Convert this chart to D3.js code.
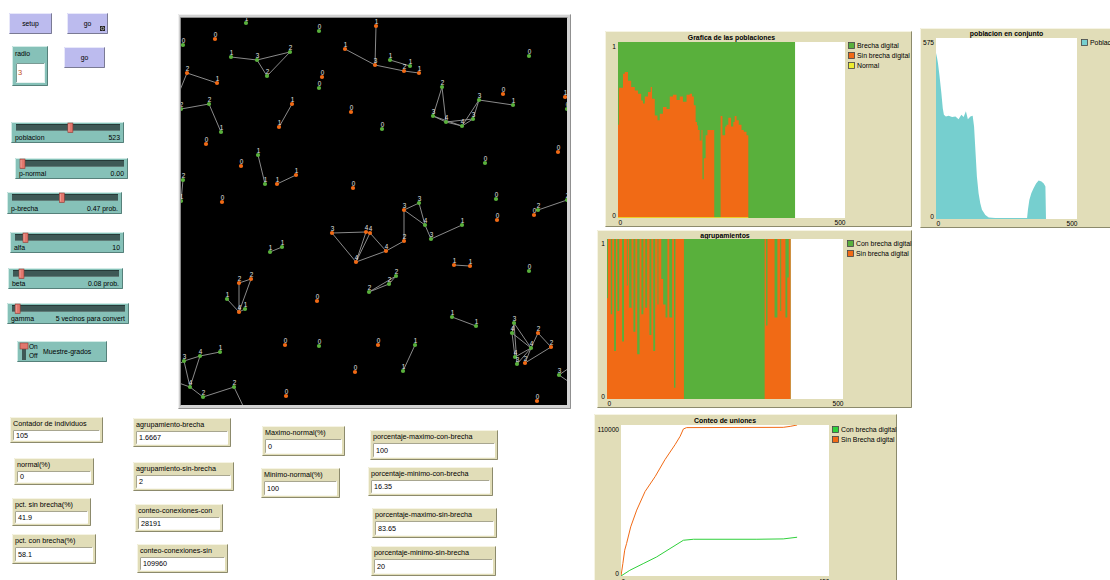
<!DOCTYPE html>
<html><head><meta charset="utf-8">
<script src="https://cdn.jsdelivr.net/npm/d3@7/dist/d3.min.js"></script>
<style>
html,body{margin:0;padding:0;background:#fff;overflow:hidden}
svg{display:block}
text{font-family:"Liberation Sans",Arial,sans-serif}
</style></head><body>
<svg id="c" width="1110" height="580"></svg>
<script>
// ================= DATA =================
const buttonLabels = ['setup', 'go', 'go'];
const buttonForever = [false, true, false];
const inputName = 'radio';
const inputValue = '3';
const sliderNames = ['poblacion', 'p-normal', 'p-brecha', 'alfa', 'beta', 'gamma'];
const sliderValues = [523, 0.00, 0.47, 10, 0.08, 5];
const sliderMax = [1000, 1, 1, 100, 1, 100];
const sliderText = ['523', '0.00', '0.47 prob.', '10', '0.08 prob.', '5 vecinos para convert'];
const switchName = 'Muestre-grados';
const monitorNames = ['Contador de individuos', 'normal(%)', 'pct. sin brecha(%)', 'pct. con brecha(%)',
  'agrupamiento-brecha', 'agrupamiento-sin-brecha', 'conteo-conexiones-con', 'conteo-conexiones-sin',
  'Maximo-normal(%)', 'Minimo-normal(%)', 'porcentaje-maximo-con-brecha', 'porcentaje-minimo-con-brecha',
  'porcentaje-maximo-sin-brecha', 'porcentaje-minimo-sin-brecha'];
const monitorValues = ['105', '0', '41.9', '58.1', '1.6667', '2', '28191', '109960', '0', '100', '100', '16.35', '83.65', '20'];

// Plot 1: "Grafica de las poblaciones"  [tick, fraction]
const popBrecha = [[0, 1], [390, 1]];
const popSinBrecha = [[0,0.53],[2,0.74],[11,0.82],[15,0.83],[22,0.78],[29,0.744],[37,0.725],[44,0.706],[51,0.668],[55,0.65],
  [59,0.69],[66,0.716],[72,0.744],[75,0.678],[81,0.583],[87,0.555],[92,0.593],[99,0.63],[107,0.62],[114,0.69],[121,0.70],
  [129,0.67],[136,0.69],[143,0.66],[151,0.70],[158,0.706],[163,0.69],[167,0.64],[171,0.545],[174,0.527],[176,0.50],[180,0.44],
  [184,0.50],[186,0.22],[189,0.34],[193,0.47],[197,0.50],[212,0],[226,0.58],[230,0.47],[236,0.52],[239,0.53],[243,0.57],
  [249,0.52],[254,0.545],[257,0.58],[261,0.555],[266,0.53],[272,0.50],[277,0.49],[283,0.47],[287,0]];
const popNormal = [[0, 0], [287, 0]];
const popLegend = ['Brecha digital', 'Sin brecha digital', 'Normal'];

// Plot 2: "poblacion en conjunto"
const conjunto = [[0,527],[4,511],[7,495],[12,458],[19,400],[24,352],[28,331],[35,326],[45,328],[57,324],[69,326],[80,317],
  [90,331],[98,324],[106,342],[113,317],[122,326],[130,328],[135,294],[139,230],[145,135],[151,82],[157,50],[163,29],[175,13],
  [187,5],[210,3],[323,3],[326,29],[331,60],[338,82],[346,98],[355,113],[364,122],[374,119],[382,113],[388,103],[390,0]];
const conjuntoLegend = ['Poblacion'];

// Plot 3: "agrupamientos"
const aggCon = [[0, 1], [389, 1]];
const aggSin = [[0,0.63],[2,1],[8,0.53],[11,1],[15,0.30],[19,1],[22,0.55],[26,1],[32,0.36],[36,1],[42,0.71],[44,1],[47,0.57],
  [52,1],[56,0.42],[60,1],[64,0.28],[69,1],[73,0.53],[77,1],[81,0.57],[85,1],[90,0.40],[94,1],[98,0.30],[102,1],[107,0.59],
  [109,1],[115,0.75],[119,0.59],[124,0.51],[128,1],[132,0.51],[138,1],[142,0.07],[145,1],[163,0],[334,1],[337,0.46],[340,1],
  [355,0.51],[361,1],[367,0.55],[369,1],[378,0.51],[382,0.76],[385,1],[389,1]];
const aggLegend = ['Con brecha digital', 'Sin brecha digital'];

// Plot 4: "Conteo de uniones"
const unionesCon = [[0,0],[19,4137],[48,9004],[77,13871],[106,19956],[135,26040],[157,26770],[294,26770],[351,27013],[381,28230]];
const unionesSin = [[0,0],[4,9000],[8,18800],[12,23600],[21,35800],[34,48000],[52,61500],[74,72500],[95,84700],[117,95700],
  [128,101800],[135,107100],[142,108100],[351,108300],[366,109000],[381,110000]];
const unionesLegend = ['Con brecha digital', 'Sin Brecha digital'];

// Network (world coords), [x, y, colour, label]
const nodes = [
 [65,5,'g','1'],[34,21,'o','0'],[138,13,'g','0'],[2,27,'g','0'],[195,8,'o','1'],[50,39,'g','1'],[76,42,'g','3'],[109,34,'g','2'],
 [86,58,'g','2'],[164,31,'o','1'],[194,47,'o','3'],[6,55,'o','2'],[36,65,'o','1'],[141,59,'o','0'],[138,70,'g','0'],[0,91,'g','2'],
 [28,86,'g','2'],[40,114,'g','1'],[111,86,'o','1'],[98,109,'o','1'],[170,94,'o','0'],[25,126,'o','0'],[77,137,'g','1'],[84,166,'g','1'],
 [60,148,'o','0'],[115,157,'o','1'],[96,166,'o','1'],[172,170,'o','0'],[41,184,'o','0'],[2,162,'g','2'],[0,183,'g','1'],[209,42,'g','1'],
 [229,48,'g','1'],[223,53,'o','2'],[238,55,'o','1'],[348,38,'g','0'],[261,69,'g','2'],[252,98,'g','3'],[265,104,'g','4'],[281,108,'g','4'],
 [292,101,'g','3'],[298,82,'g','3'],[332,87,'g','1'],[322,76,'o','0'],[384,79,'o','1'],[386,91,'g','0'],[201,111,'g','0'],[377,134,'o','0'],
 [304,145,'g','0'],[315,181,'g','0'],[238,185,'g','3'],[223,192,'o','3'],[357,192,'g','2'],[386,182,'g','2'],[151,215,'o','3'],[185,214,'o','4'],
 [189,215,'o','4'],[175,244,'o','4'],[89,234,'g','1'],[101,229,'g','1'],[58,265,'o','2'],[70,261,'o','2'],[46,281,'g','1'],[58,294,'o','4'],
 [64,291,'g','1'],[188,274,'g','2'],[136,283,'o','0'],[104,327,'o','0'],[138,328,'g','0'],[197,327,'o','0'],[174,354,'o','0'],[105,378,'o','0'],
 [3,343,'g','3'],[19,338,'g','4'],[39,334,'g','1'],[9,369,'g','4'],[22,379,'g','2'],[53,369,'g','2'],[244,207,'g','4'],[250,221,'g','3'],
 [281,207,'g','1'],[223,223,'o','2'],[205,233,'o','4'],[316,202,'o','0'],[353,197,'o','0'],[273,247,'o','1'],[289,248,'o','1'],[348,253,'g','0'],
 [215,258,'g','2'],[208,266,'g','2'],[271,299,'g','1'],[295,308,'g','1'],[234,327,'g','1'],[222,353,'g','1'],[333,305,'g','3'],[331,315,'g','4'],
 [357,315,'o','2'],[350,330,'g','4'],[370,329,'o','2'],[334,339,'g','4'],[336,346,'g','3'],[344,345,'o','2'],[378,357,'g','3'],[356,383,'o','0'],
 // wrapped link ends (outside the view)
 [-3,77,'',''],[65,394,'',''],[-5,348,'',''],[-5,364,'',''],[391,348,'',''],[391,366,'','']
];
const links = [[6,7],[7,8],[7,9],[8,9],[5,11],[10,11],[11,34],[34,35],[32,33],[12,13],[12,105],[16,17],[17,18],
 [19,20],[23,24],[26,27],[30,31],[37,38],[37,39],[38,39],[38,40],[39,40],[39,41],[40,41],[40,42],[41,42],[42,43],
 [53,54],[51,52],[51,79],[52,79],[52,82],[79,80],[80,81],[82,83],[83,58],[83,57],[55,56],[55,58],[56,58],[57,58],
 [59,60],[61,62],[61,64],[62,64],[63,64],[65,64],[66,89],[66,90],[89,90],[73,74],[74,75],[73,76],[74,76],[76,77],
 [77,78],[78,106],[73,107],[76,108],[86,87],[91,92],[93,94],[95,96],[95,98],[95,101],[96,100],[96,98],[97,98],[97,99],
 [98,100],[98,101],[98,102],[99,102],[103,109],[103,110]];

// ================= STYLE / LAYOUT =================
const C = {
  btn: '#bcbbee', btnL: '#e8e8fa', btnD: '#7a7a94',
  teal: '#86c1b8', tealL: '#d2ebe6', tealD: '#56807a',
  beige: '#e1ddb8', beigeL: '#f6f4e4', beigeD: '#8c8a6c',
  track: '#3e5956', knob: '#e2776d',
  green: '#59b03c', orange: '#f16a15', yellow: '#eded2f', cyan: '#76cfcf', lime: '#2fd03b'
};
const FS = 7.2;
const svg = d3.select('#c');
svg.append('rect').attr('width', 1110).attr('height', 580).attr('fill', '#fff');

function T(g, x, y, s, o = {}) {
  return g.append('text').attr('x', x).attr('y', y)
    .attr('font-size', o.size || FS).attr('fill', o.fill || '#000')
    .attr('text-anchor', o.anchor || 'start').attr('font-weight', o.weight || 'normal').text(s);
}
function bevel(g, x0, y0, x1, y1, fill, light, dark) {
  g.append('rect').attr('x', x0).attr('y', y0).attr('width', x1 - x0).attr('height', y1 - y0).attr('fill', fill);
  g.append('path').attr('d', `M${x0 + 0.5},${y1 - 0.5}V${y0 + 0.5}H${x1 - 0.5}`).attr('stroke', light).attr('fill', 'none');
  g.append('path').attr('d', `M${x0 + 0.5},${y1 - 0.5}H${x1 - 0.5}V${y0 + 0.5}`).attr('stroke', dark).attr('fill', 'none');
}

// ---- buttons ----
const buttonBoxes = [[9, 13, 52, 34], [67, 13, 108, 34], [64, 47, 105, 68]];
const gB = svg.append('g');
buttonBoxes.forEach((b, i) => {
  bevel(gB, b[0], b[1], b[2], b[3], C.btn, C.btnL, C.btnD);
  T(gB, (b[0] + b[2]) / 2, (b[1] + b[3]) / 2 + 2.5, buttonLabels[i], { anchor: 'middle', size: 6.8 });
  if (buttonForever[i]) {
    gB.append('rect').attr('x', b[2] - 8).attr('y', b[3] - 8).attr('width', 5).attr('height', 5).attr('fill', '#222');
    gB.append('circle').attr('cx', b[2] - 5.5).attr('cy', b[3] - 5.5).attr('r', 1.4).attr('fill', 'none').attr('stroke', '#ddd').attr('stroke-width', 0.7);
  }
});

// ---- input ----
const inBox = [12, 46, 48, 86];
bevel(gB, inBox[0], inBox[1], inBox[2], inBox[3], C.teal, C.tealL, C.tealD);
T(gB, inBox[0] + 3, inBox[1] + 10, inputName, { size: 6.8 });
bevel(gB, inBox[0] + 4, inBox[1] + 17, inBox[2] - 3, inBox[3] - 3, '#fff', '#7a9a94', '#e8f2f0');
T(gB, inBox[0] + 6, inBox[1] + 29, inputValue, { fill: '#c0501a', size: 7.5 });

// ---- sliders ----
const sliderBoxes = [[11, 122, 124, 143], [15, 158, 128, 179], [7, 192, 122, 214], [10, 232, 124, 253], [8, 268, 123, 289], [7, 303, 129, 324]];
const gS = svg.append('g');
sliderBoxes.forEach((b, i) => {
  bevel(gS, b[0], b[1], b[2], b[3], C.teal, C.tealL, C.tealD);
  const tx0 = b[0] + 5, tx1 = b[2] - 4;
  gS.append('rect').attr('x', tx0).attr('y', b[1] + 2).attr('width', tx1 - tx0).attr('height', 7).attr('fill', C.track);
  gS.append('path').attr('d', `M${tx0},${b[1] + 2.5}H${tx1}`).attr('stroke', '#263a38');
  gS.append('path').attr('d', `M${tx0},${b[1] + 8.5}H${tx1}`).attr('stroke', '#5f7b77');
  const ks = d3.scaleLinear().domain([0, sliderMax[i]]).range([tx0, tx1]).clamp(true);
  const kx = Math.max(tx0 + 2.5, ks(sliderValues[i]));
  gS.append('rect').attr('x', kx - 2.5).attr('y', b[1] + 1).attr('width', 5).attr('height', 9.5)
    .attr('fill', C.knob).attr('stroke', '#8e3a34').attr('stroke-width', 0.6);
  gS.append('path').attr('d', `M${kx - 1.5},${b[1] + 2}V${b[1] + 9.5}`).attr('stroke', '#f2b0a8').attr('stroke-width', 0.8);
  T(gS, b[0] + 4, b[3] - 3.5, sliderNames[i], { size: 6.9 });
  T(gS, b[2] - 4, b[3] - 3.5, sliderText[i], { size: 6.9, anchor: 'end' });
});

// ---- switch ----
const swBox = [17, 341, 107, 362];
bevel(gS, swBox[0], swBox[1], swBox[2], swBox[3], C.teal, C.tealL, C.tealD);
gS.append('rect').attr('x', swBox[0] + 5).attr('y', swBox[1] + 7).attr('width', 4).attr('height', 12).attr('fill', C.track);
gS.append('rect').attr('x', swBox[0] + 3).attr('y', swBox[1] + 2).attr('width', 8).attr('height', 6).attr('fill', C.knob).attr('stroke', '#8e3a34').attr('stroke-width', 0.6);
T(gS, swBox[0] + 12, swBox[1] + 8, 'On', { size: 6.5 });
T(gS, swBox[0] + 12, swBox[1] + 17, 'Off', { size: 6.5 });
T(gS, swBox[0] + 26, swBox[1] + 13, switchName, { size: 6.9 });

// ---- monitors ----
const monitorBoxes = [[10, 417, 103, 443], [14, 458, 94, 485], [12, 498, 91, 526], [12, 534, 96, 564],
  [133, 418, 231, 447], [133, 462, 234, 491], [135, 504, 223, 532], [137, 544, 228, 573],
  [262, 426, 345, 456], [261, 468, 340, 498], [370, 430, 498, 460], [368, 467, 493, 496], [372, 508, 497, 538], [371, 546, 496, 576]];
const gM = svg.append('g');
monitorBoxes.forEach((b, i) => {
  bevel(gM, b[0], b[1], b[2], b[3], C.beige, C.beigeL, C.beigeD);
  T(gM, b[0] + 3, b[1] + 9.3, monitorNames[i]);
  const w = [b[0] + 3, b[1] + 13, b[2] - 3, b[3] - 2.5];
  bevel(gM, w[0], w[1], w[2], w[3], '#fff', '#a8a690', '#fff');
  T(gM, w[0] + 3, (w[1] + w[3]) / 2 + 2.6, monitorValues[i]);
});

// ---- world view ----
const gV = svg.append('g');
gV.append('rect').attr('x', 178).attr('y', 14).attr('width', 393).attr('height', 395).attr('fill', '#d2d2d2');
gV.append('path').attr('d', 'M178.5,408.5V14.5H570.5').attr('stroke', '#f0f0f0').attr('fill', 'none');
gV.append('path').attr('d', 'M178.5,408.5H570.5V14.5').attr('stroke', '#909090').attr('fill', 'none');
gV.append('rect').attr('x', 181).attr('y', 18).attr('width', 386).attr('height', 387).attr('fill', '#000');
gV.append('path').attr('d', 'M180.5,405.5V17.5H567.5').attr('stroke', '#8a8a8a').attr('fill', 'none');
svg.append('clipPath').attr('id', 'vclip').append('rect').attr('x', 181).attr('y', 18).attr('width', 386).attr('height', 387);
const vx = d3.scaleLinear().domain([0, 386]).range([181, 567]);
const vy = d3.scaleLinear().domain([0, 387]).range([18, 405]);
const gN = gV.append('g').attr('clip-path', 'url(#vclip)');
gN.selectAll('line').data(links).join('line')
  .attr('x1', d => vx(nodes[d[0] - 1][0])).attr('y1', d => vy(nodes[d[0] - 1][1]))
  .attr('x2', d => vx(nodes[d[1] - 1][0])).attr('y2', d => vy(nodes[d[1] - 1][1]))
  .attr('stroke', '#9a9a9a').attr('stroke-width', 0.9);
const shown = nodes.filter(n => n[2] !== '');
gN.selectAll('circle').data(shown).join('circle')
  .attr('cx', d => vx(d[0])).attr('cy', d => vy(d[1])).attr('r', 2.1)
  .attr('fill', d => d[2] === 'g' ? C.green : C.orange);
gN.selectAll('text.lab').data(shown).join('text').attr('class', 'lab')
  .attr('x', d => vx(d[0]) + 0.5).attr('y', d => vy(d[1]) - 1.6)
  .attr('font-size', 6.3).attr('fill', '#e2e2e2').attr('text-anchor', 'middle').text(d => d[3]);

// ---- plots ----
function plotFrame(o) {
  const g = svg.append('g');
  bevel(g, o.box[0], o.box[1], o.box[2], o.box[3], C.beige, C.beigeL, C.beigeD);
  const [px0, py0, px1, py1] = o.area;
  g.append('rect').attr('x', px0).attr('y', py0).attr('width', px1 - px0).attr('height', py1 - py0).attr('fill', '#fff');
  T(g, (px0 + px1) / 2, o.titleY, o.title, { anchor: 'middle', weight: 'bold', size: 6.9 });
  const x = d3.scaleLinear().domain(o.xd).range([px0, px1]);
  const y = d3.scaleLinear().domain(o.yd).range([py1, py0]);
  const id = 'clip' + Math.round(px0) + Math.round(py0);
  svg.append('clipPath').attr('id', id).append('rect').attr('x', px0).attr('y', py0).attr('width', px1 - px0).attr('height', py1 - py0);
  const inner = g.append('g').attr('clip-path', `url(#${id})`);
  // axes
  const ya = g.append('g').attr('transform', `translate(${px0 - 2},0)`)
    .call(d3.axisLeft(y).tickValues(o.yd).tickSize(0).tickPadding(0).tickFormat(d3.format('d')));
  ya.select('.domain').remove();
  ya.selectAll('text').attr('font-size', 6.6).attr('font-family', '"Liberation Sans",Arial,sans-serif')
    .attr('dy', (d, i) => i === 0 ? '-0.15em' : '0.95em');
  const xa = g.append('g').attr('transform', `translate(0,${py1})`)
    .call(d3.axisBottom(x).tickValues(o.xd).tickSize(0).tickPadding(o.xPad || 2).tickFormat(d3.format('d')));
  xa.select('.domain').remove();
  xa.selectAll('text').attr('font-size', 6.6).attr('font-family', '"Liberation Sans",Arial,sans-serif')
    .attr('text-anchor', (d, i) => i === 0 ? 'start' : 'end');
  // legend
  o.legend.forEach((name, i) => {
    const ly = o.legXY[1] + i * 10;
    g.append('rect').attr('x', o.legXY[0] + 0.5).attr('y', ly + 0.5).attr('width', 6).attr('height', 6)
      .attr('fill', o.legCol[i]).attr('stroke', '#444').attr('stroke-width', 0.8);
    T(g, o.legXY[0] + 9, ly + 6.3, name, { size: 6.9 });
  });
  return { g: inner, x, y };
}

const areaOf = (p, curve) => d3.area().x(d => p.x(d[0])).y0(p.y(0)).y1(d => p.y(d[1])).curve(curve);
const lineOf = (p, curve) => d3.line().x(d => p.x(d[0])).y(d => p.y(d[1])).curve(curve);

// Plot 1
const p1 = plotFrame({ box: [605, 31, 912, 227], area: [618, 42, 845, 218], titleY: 40, title: 'Grafica de las poblaciones',
  xd: [0, 500], yd: [0, 1], legend: popLegend, legCol: [C.green, C.orange, C.yellow], legXY: [848, 42] });
p1.g.append('path').datum(popBrecha).attr('d', areaOf(p1, d3.curveStepAfter)).attr('fill', C.green);
p1.g.append('path').datum(popSinBrecha).attr('d', areaOf(p1, d3.curveStepAfter)).attr('fill', C.orange);
p1.g.append('path').datum(popNormal).attr('d', lineOf(p1, d3.curveLinear)).attr('stroke', C.yellow).attr('stroke-width', 1.5).attr('fill', 'none');

// Plot 2
const p2 = plotFrame({ box: [920, 28, 1112, 228], area: [936, 38, 1077, 219], titleY: 36, title: 'poblacion en conjunto',
  xd: [0, 500], yd: [0, 575], legend: conjuntoLegend, legCol: [C.cyan], legXY: [1081, 39] });
p2.g.append('path').datum(conjunto).attr('d', areaOf(p2, d3.curveLinear)).attr('fill', C.cyan);

// Plot 3
const p3 = plotFrame({ box: [597, 230, 912, 408], area: [607, 239, 843, 399], titleY: 237.5, title: 'agrupamientos',
  xd: [0, 500], yd: [0, 1], legend: aggLegend, legCol: [C.green, C.orange], legXY: [847, 240] });
p3.g.append('path').datum(aggCon).attr('d', areaOf(p3, d3.curveStepAfter)).attr('fill', C.green);
p3.g.append('path').datum(aggSin).attr('d', areaOf(p3, d3.curveStepAfter)).attr('fill', C.orange);

// Plot 4
const p4 = plotFrame({ box: [594, 414, 897, 590], area: [621, 425, 829, 576], titleY: 422.5, title: 'Conteo de uniones',
  xd: [0, 450], yd: [0, 110000], legend: unionesLegend, legCol: [C.lime, C.orange], legXY: [832, 426], xPad: 3 });
p4.g.append('path').datum(unionesSin).attr('d', lineOf(p4, d3.curveLinear)).attr('stroke', C.orange).attr('stroke-width', 1).attr('fill', 'none');
p4.g.append('path').datum(unionesCon).attr('d', lineOf(p4, d3.curveLinear)).attr('stroke', C.lime).attr('stroke-width', 1).attr('fill', 'none');
</script>
</body></html>
